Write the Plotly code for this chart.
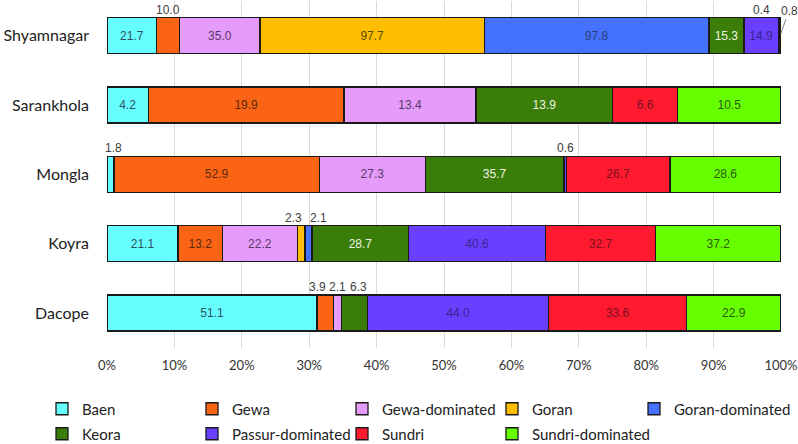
import plotly.graph_objects as go

# ---------------- data ----------------
categories = ["Shyamnagar", "Sarankhola", "Mongla", "Koyra", "Dacope"]
series_names = ["Baen", "Gewa", "Gewa-dominated", "Goran", "Goran-dominated",
                "Keora", "Passur-dominated", "Sundri", "Sundri-dominated"]
baen = [21.7, 4.2, 1.8, 21.1, 51.1]
gewa = [10.0, 19.9, 52.9, 13.2, 3.9]
gewa_dom = [35.0, 13.4, 27.3, 22.2, 2.1]
goran = [97.7, None, None, 2.3, None]
goran_dom = [97.8, None, None, 2.1, None]
keora = [15.3, 13.9, 35.7, 28.7, 6.3]
passur_dom = [14.9, None, 0.6, 40.6, 44.0]
sundri = [0.4, 6.6, 26.7, 32.7, 33.6]
sundri_dom = [0.8, 10.5, 28.6, 37.2, 22.9]
x_tick_values = [0, 10, 20, 30, 40, 50, 60, 70, 80, 90, 100]
x_tick_labels = ["0%", "10%", "20%", "30%", "40%", "50%", "60%", "70%", "80%", "90%", "100%"]

series_values = [baen, gewa, gewa_dom, goran, goran_dom, keora, passur_dom, sundri, sundri_dom]

# ---------------- styles ----------------
colors = ["#66FFFF", "#FA6414", "#E49BF9", "#FFBF00", "#4472FF",
          "#3A7D08", "#6A3FFF", "#FF1A30", "#66FF00"]
text_colors = ["#2f4f5f", "#5a2a10", "#5a3a6a", "#5a4a10", "#2a3f7a",
               "#eef4e6", "#3a2590", "#7a1020", "#2f5a10"]
legend_slots = ["legend", "legend", "legend", "legend", "legend3",
                "legend2", "legend2", "legend2", "legend4"]
inside_min_share = 0.045
label_xshift = {("Koyra", "Goran"): -8, ("Koyra", "Goran-dominated"): 10,
                ("Dacope", "Gewa"): -8, ("Dacope", "Keora"): 4,
                ("Shyamnagar", "Sundri"): -17, ("Mongla", "Baen"): 3}
leader_labels = {("Shyamnagar", "Sundri-dominated"): (9, -25)}

totals = [sum(v[i] or 0 for v in series_values) for i in range(len(categories))]

fig = go.Figure()
for name, vals, col, tcol, lg in zip(series_names, series_values, colors, text_colors, legend_slots):
    txt = []
    for i, v in enumerate(vals):
        if v is not None and v / totals[i] >= inside_min_share:
            txt.append(f"{v:.1f}")
        else:
            txt.append("")
    fig.add_trace(go.Bar(
        name=name, y=categories, x=vals, orientation="h", legend=lg,
        marker=dict(color=col, line=dict(color="#1a1a1a", width=1.3)),
        text=txt, textposition="inside", insidetextanchor="middle",
        constraintext="none",
        textfont=dict(family="Liberation Sans, Arial", size=12, color=tcol),
        hoverinfo="skip",
    ))

annotations = []
for ci, cat in enumerate(categories):
    cum = 0.0
    for name, vals in zip(series_names, series_values):
        v = vals[ci]
        if v is None:
            continue
        share = v / totals[ci]
        center = (cum + v / 2) / totals[ci] * 100
        cum += v
        if share >= inside_min_share:
            continue
        key = (cat, name)
        if key in leader_labels:
            ax, ay = leader_labels[key]
            annotations.append(dict(
                x=center, y=cat, xref="x", yref="y", text=f"{v:.1f}",
                showarrow=True, arrowhead=0, arrowwidth=1, arrowcolor="#808080",
                ax=ax, ay=ay, standoff=2,
                font=dict(family="Liberation Sans, Arial", size=12, color="#404040")))
        else:
            annotations.append(dict(
                x=center, y=cat, xref="x", yref="y", text=f"{v:.1f}",
                showarrow=False, yshift=26, xshift=label_xshift.get(key, 0),
                font=dict(family="Liberation Sans, Arial", size=12, color="#404040")))

legend_common = dict(orientation="h", xref="container", yref="container",
                     xanchor="left", yanchor="middle",
                     traceorder="normal",
                     bgcolor="rgba(0,0,0,0)",
                     font=dict(family="Lato", size=15, color="#222222"),
                     itemclick=False, itemdoubleclick=False)
col0 = 42.0
col_step = 150.0
row1_y = 1 - 409 / 444
row2_y = 1 - 434 / 444

fig.update_layout(
    barmode="stack", barnorm="percent", bargap=0.48,
    width=798, height=444,
    margin=dict(l=107, r=17, t=1, b=96, autoexpand=False),
    paper_bgcolor="white", plot_bgcolor="white",
    annotations=annotations,
    showlegend=True,
    legend=dict(legend_common, x=col0 / 798, y=row1_y, entrywidth=105),
    legend3=dict(legend_common, x=634 / 798, y=row1_y),
    legend2=dict(legend_common, x=col0 / 798, y=row2_y, entrywidth=105),
    legend4=dict(legend_common, x=(col0 + 3 * col_step) / 798, y=row2_y),
    xaxis=dict(range=[0, 100], tickvals=x_tick_values, ticktext=x_tick_labels,
               showgrid=True, gridcolor="#d9d9d9", gridwidth=1,
               zeroline=False, showline=False, ticks="", automargin=False,
               ticklabelstandoff=8,
               tickfont=dict(family="Lato", size=13, color="#333333")),
    yaxis=dict(autorange="reversed", showgrid=False, zeroline=False,
               showline=False, ticks="", automargin=False, ticklabelstandoff=17,
               tickfont=dict(family="Lato", size=16, color="#222222")),
)

fig.write_html("out.html",
               config={"displayModeBar": False, "staticPlot": True},
               post_script="document.body.style.margin='0';document.body.style.overflow='hidden';")
